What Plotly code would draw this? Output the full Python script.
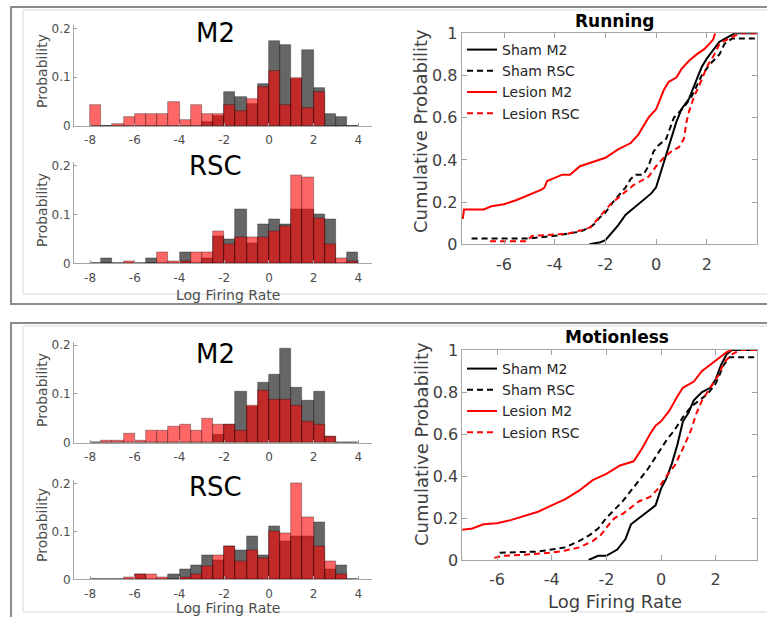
import plotly.graph_objects as go

W, H = 767, 617


def fx(p):
    return p / W


def fy(p):
    return 1 - p / H


# ---------------- data ----------------
bin_centers = [-7.75, -7.25, -6.75, -6.25, -5.75, -5.25, -4.75, -4.25,
               -3.75, -3.25, -2.75, -2.25, -1.75, -1.25, -0.75, -0.25,
               0.25, 0.75, 1.25, 1.75, 2.25, 2.75, 3.25, 3.75]

run_m2_sham = [0, 0, 0, 0, 0, 0, 0, 0, 0, 0, 0.009, 0.02, 0.069, 0.06, 0.045, 0.087,
               0.174, 0.166, 0.097, 0.156, 0.078, 0.025, 0.018, 0]
run_m2_lesion = [0.043, 0, 0.005, 0.018, 0.024, 0.024, 0.024, 0.05, 0.012, 0.043, 0.024, 0.024,
                 0.043, 0.03, 0.056, 0.08, 0.113, 0.043, 0.099, 0.037, 0.069, 0, 0, 0]
run_rsc_sham = [0, 0.01, 0, 0, 0, 0.01, 0, 0, 0.022, 0, 0.011, 0.055, 0.05, 0.11, 0.042, 0.08,
                0.09, 0.08, 0.11, 0.11, 0.1, 0.09, 0, 0.022]
run_rsc_lesion = [0, 0, 0, 0.005, 0, 0, 0.022, 0.005, 0.005, 0.022, 0.022, 0.065, 0.038, 0.054,
                  0.054, 0.054, 0.065, 0.075, 0.18, 0.177, 0.092, 0.038, 0.011, 0.005]
mot_m2_sham = [0, 0, 0, 0, 0, 0, 0, 0, 0, 0, 0, 0.017, 0.037, 0.105, 0.073, 0.123,
               0.14, 0.193, 0.113, 0.086, 0.105, 0.012, 0, 0]
mot_m2_lesion = [0, 0.005, 0.005, 0.018, 0.005, 0.024, 0.024, 0.032, 0.037, 0.024, 0.05, 0.037,
                 0.037, 0.024, 0.076, 0.107, 0.088, 0.088, 0.076, 0.043, 0.037, 0.012, 0, 0]
mot_rsc_sham = [0, 0, 0, 0, 0.01, 0, 0, 0.01, 0.021, 0.03, 0.05, 0.04, 0.07, 0.06, 0.09, 0.05,
                0.11, 0.08, 0.09, 0.09, 0.12, 0.021, 0.03, 0]
mot_rsc_lesion = [0, 0, 0, 0.005, 0.01, 0.01, 0.005, 0, 0.005, 0.01, 0.027, 0.05, 0.07, 0.037,
                  0.06, 0.043, 0.1, 0.097, 0.2, 0.13, 0.07, 0.037, 0.01, 0]

# cumulative curves, Running
run_sham_m2_x = [-2.63, -2.2, -2.0, -1.7, -1.5, -1.2, -1.0, -0.7, -0.4, -0.2, 0.0, 0.2, 0.4, 0.6,
                 0.8, 1.0, 1.3, 1.6, 1.8, 2.0, 2.3, 2.5, 2.8, 3.1, 4.2]
run_sham_m2_y = [0.0, 0.01, 0.02, 0.06, 0.09, 0.14, 0.16, 0.19, 0.22, 0.24, 0.27, 0.35, 0.43, 0.50,
                 0.58, 0.64, 0.69, 0.78, 0.84, 0.88, 0.93, 0.96, 0.98, 1.0, 1.0]
run_sham_rsc_x = [-7.28, -5.0, -4.0, -3.5, -3.0, -2.6, -2.4, -2.2, -2.0, -1.7, -1.4, -1.2, -1.0,
                  -0.8, -0.5, -0.3, -0.1, 0.1, 0.4, 0.7, 1.1, 1.4, 1.8, 2.1, 2.5, 2.7, 3.0, 4.2]
run_sham_rsc_y = [0.028, 0.028, 0.04, 0.05, 0.06, 0.08, 0.10, 0.13, 0.15, 0.20, 0.24, 0.27, 0.31,
                  0.33, 0.33, 0.37, 0.44, 0.47, 0.50, 0.60, 0.65, 0.70, 0.80, 0.85, 0.90, 0.95,
                  0.975, 0.975]
run_lesion_m2_x = [-7.9, -7.62, -7.58, -6.8, -6.5, -6.0, -5.5, -5.0, -4.5, -4.4, -4.3, -4.0, -3.7,
                   -3.4, -3.0, -2.5, -2.0, -1.5, -1.0, -0.7, -0.5, -0.3, 0.0, 0.3, 0.5, 0.8, 1.0,
                   1.3, 1.6, 1.9, 2.1, 2.25, 2.33]
run_lesion_m2_y = [0.12, 0.125, 0.165, 0.165, 0.18, 0.19, 0.21, 0.235, 0.26, 0.27, 0.30, 0.315,
                   0.33, 0.33, 0.37, 0.39, 0.41, 0.45, 0.48, 0.52, 0.56, 0.60, 0.64, 0.73, 0.77,
                   0.79, 0.83, 0.87, 0.90, 0.925, 0.95, 0.97, 1.0]
run_lesion_rsc_x = [-6.55, -5.1, -4.9, -4.0, -3.5, -3.0, -2.6, -2.3, -2.1, -1.8, -1.5, -1.2, -0.9,
                    -0.6, -0.3, 0.0, 0.3, 0.6, 0.9, 1.1, 1.2, 1.3, 1.5, 1.8, 2.0, 2.3, 2.5, 2.8,
                    3.3, 4.2]
run_lesion_rsc_y = [0.015, 0.015, 0.04, 0.045, 0.05, 0.065, 0.08, 0.12, 0.15, 0.19, 0.22, 0.25,
                    0.28, 0.30, 0.32, 0.37, 0.41, 0.44, 0.46, 0.50, 0.58, 0.63, 0.70, 0.78, 0.84,
                    0.90, 0.95, 0.97, 1.0, 1.0]

# cumulative curves, Motionless
mot_sham_m2_x = [-2.65, -2.3, -2.0, -1.6, -1.3, -1.1, -0.8, -0.5, -0.2, 0.0, 0.2, 0.4, 0.6, 0.8,
                 1.0, 1.2, 1.5, 1.8, 2.0, 2.2, 2.4, 2.6, 4.0]
mot_sham_m2_y = [0.0, 0.02, 0.02, 0.05, 0.10, 0.17, 0.20, 0.23, 0.26, 0.34, 0.39, 0.46, 0.55, 0.66,
                 0.70, 0.76, 0.80, 0.82, 0.86, 0.93, 0.98, 1.0, 1.0]
mot_sham_rsc_x = [-5.9, -4.5, -3.5, -3.0, -2.6, -2.3, -2.0, -1.7, -1.4, -1.1, -0.8, -0.5, -0.2,
                  0.0, 0.2, 0.5, 0.8, 1.1, 1.4, 1.7, 2.0, 2.3, 2.5, 3.6]
mot_sham_rsc_y = [0.035, 0.04, 0.06, 0.09, 0.12, 0.15, 0.20, 0.24, 0.28, 0.33, 0.38, 0.43, 0.49,
                  0.53, 0.57, 0.62, 0.68, 0.73, 0.76, 0.79, 0.84, 0.93, 0.965, 0.965]
mot_lesion_m2_x = [-7.5, -6.9, -6.5, -6.0, -5.5, -5.0, -4.5, -4.0, -3.5, -3.0, -2.5, -2.0, -1.5,
                   -1.0, -0.7, -0.4, -0.2, 0.0, 0.3, 0.6, 0.8, 1.2, 1.5, 1.8, 2.1, 2.4, 2.6]
mot_lesion_m2_y = [0.14, 0.15, 0.17, 0.175, 0.19, 0.21, 0.23, 0.26, 0.29, 0.33, 0.38, 0.41, 0.45,
                   0.47, 0.53, 0.60, 0.64, 0.66, 0.71, 0.78, 0.82, 0.85, 0.90, 0.93, 0.96, 0.99, 1.0]
mot_lesion_rsc_x = [-6.1, -5.8, -5.0, -4.0, -3.5, -3.0, -2.5, -2.2, -1.9, -1.7, -1.4, -1.1, -0.8,
                    -0.4, -0.1, 0.2, 0.5, 0.8, 1.1, 1.3, 1.5, 1.8, 2.1, 2.3, 2.6, 2.9, 3.6]
mot_lesion_rsc_y = [0.01, 0.02, 0.025, 0.035, 0.045, 0.06, 0.09, 0.12, 0.17, 0.20, 0.22, 0.25,
                    0.28, 0.30, 0.34, 0.40, 0.45, 0.53, 0.62, 0.70, 0.76, 0.82, 0.88, 0.94, 0.98,
                    1.0, 1.0]

hist_xticks = [-8, -6, -4, -2, 0, 2, 4]
hist_xtext = ['-8', '-6', '-4', '-2', '0', '2', '4']
hist_yticks = [0, 0.1, 0.2]
hist_ytext = ['0', '0.1', '0.2']
cdf_xticks = [-6, -4, -2, 0, 2]
cdf_xtext = ['-6', '-4', '-2', '0', '2']
cdf_yticks = [0, 0.2, 0.4, 0.6, 0.8, 1]
cdf_ytext = ['0', '0.2', '0.4', '0.6', '0.8', '1']

legend_names = ['Sham M2', 'Sham RSC', 'Lesion M2', 'Lesion RSC']

# ---------------- figure ----------------
FONT = 'DejaVu Sans'
fig = go.Figure()

GRAY = 'rgba(0,0,0,0.6)'
RED = 'rgba(255,0,0,0.6)'
EDGE = 'rgba(0,0,0,0.45)'

hists = [
    ('x', 'y', run_m2_sham, run_m2_lesion),
    ('x2', 'y2', run_rsc_sham, run_rsc_lesion),
    ('x4', 'y4', mot_m2_sham, mot_m2_lesion),
    ('x5', 'y5', mot_rsc_sham, mot_rsc_lesion),
]
for xa, ya, sham, lesion in hists:
    fig.add_trace(go.Bar(x=bin_centers, y=sham, width=0.5, xaxis=xa, yaxis=ya,
                         marker=dict(color=GRAY, line=dict(color=EDGE, width=0.7)),
                         showlegend=False, hoverinfo='skip'))
    fig.add_trace(go.Bar(x=bin_centers, y=lesion, width=0.5, xaxis=xa, yaxis=ya,
                         marker=dict(color=RED, line=dict(color=EDGE, width=0.7)),
                         showlegend=False, hoverinfo='skip'))

DASH = '6px,4px'
cdf_sets = [
    ('x3', 'y3', 'legend', [
        (run_sham_m2_x, run_sham_m2_y, 'black', 'solid'),
        (run_sham_rsc_x, run_sham_rsc_y, 'black', DASH),
        (run_lesion_m2_x, run_lesion_m2_y, 'red', 'solid'),
        (run_lesion_rsc_x, run_lesion_rsc_y, 'red', DASH),
    ]),
    ('x6', 'y6', 'legend2', [
        (mot_sham_m2_x, mot_sham_m2_y, 'black', 'solid'),
        (mot_sham_rsc_x, mot_sham_rsc_y, 'black', DASH),
        (mot_lesion_m2_x, mot_lesion_m2_y, 'red', 'solid'),
        (mot_lesion_rsc_x, mot_lesion_rsc_y, 'red', DASH),
    ]),
]
for xa, ya, lg, curves in cdf_sets:
    for name, (cx, cy, col, dash) in zip(legend_names, curves):
        fig.add_trace(go.Scatter(x=cx, y=cy, mode='lines', name=name, xaxis=xa, yaxis=ya,
                                 legend=lg, line=dict(color=col, width=2, dash=dash)))

tickfont_h = dict(family=FONT, size=12, color='#4d4d4d')
tickfont_c = dict(family=FONT, size=16, color='#404040')


def hist_x(dom):
    return dict(domain=dom, range=[-8.72, 4.61], tickvals=hist_xticks, ticktext=hist_xtext,
                ticks='inside', ticklen=3, tickcolor='#a0a0a0', showline=True,
                linecolor='#a6a6a6', linewidth=1, showgrid=False, zeroline=False,
                tickfont=tickfont_h, ticklabelstandoff=3, automargin=False)


def hist_y(dom, anchor):
    return dict(domain=dom, range=[0, 0.207], tickvals=hist_yticks, ticktext=hist_ytext,
                ticks='inside', ticklen=3, tickcolor='#a0a0a0', showline=True,
                linecolor='#a6a6a6', linewidth=1, showgrid=False, zeroline=False,
                tickfont=tickfont_h, anchor=anchor, automargin=False)


def cdf_x(dom, rng, anchor):
    return dict(domain=dom, range=rng, tickvals=cdf_xticks, ticktext=cdf_xtext,
                ticks='inside', ticklen=5, tickcolor='#a0a0a0', showline=True, mirror='ticks',
                linecolor='#a6a6a6', linewidth=1, showgrid=False, zeroline=False,
                tickfont=tickfont_c, anchor=anchor, ticklabelstandoff=5, automargin=False)


def cdf_y(dom, anchor):
    return dict(domain=dom, range=[0, 1], tickvals=cdf_yticks, ticktext=cdf_ytext,
                ticks='inside', ticklen=5, tickcolor='#a0a0a0', showline=True, mirror='ticks',
                linecolor='#a6a6a6', linewidth=1, showgrid=False, zeroline=False,
                tickfont=tickfont_c, anchor=anchor, automargin=False)


hx_dom = [fx(74), fx(372)]
layout = dict(
    width=W, height=H, autosize=False,
    margin=dict(l=0, r=0, t=0, b=0, pad=0, autoexpand=False),
    paper_bgcolor='white', plot_bgcolor='white',
    barmode='overlay', bargap=0,
    xaxis=dict(hist_x(hx_dom), anchor='y'),
    yaxis=hist_y([fy(126), fy(25)], 'x'),
    xaxis2=dict(hist_x(hx_dom), anchor='y2'),
    yaxis2=hist_y([fy(263.3), fy(162.3)], 'x2'),
    xaxis4=dict(hist_x(hx_dom), anchor='y4'),
    yaxis4=hist_y([fy(442.7), fy(341.6)], 'x4'),
    xaxis5=dict(hist_x(hx_dom), anchor='y5'),
    yaxis5=hist_y([fy(579.3), fy(480.3)], 'x5'),
    xaxis3=cdf_x([fx(461.7), fx(756.7)], [-7.67, 3.97], 'y3'),
    yaxis3=cdf_y([fy(244.3), fy(33.3)], 'x3'),
    xaxis6=cdf_x([fx(462.3), fx(756.7)], [-7.27, 3.5], 'y6'),
    yaxis6=cdf_y([fy(560), fy(350)], 'x6'),
    legend=dict(x=fx(462), y=fy(34), xanchor='left', yanchor='top',
                bgcolor='rgba(0,0,0,0)', borderwidth=0, tracegroupgap=0,
                font=dict(family=FONT, size=14, color='#262626')),
    legend2=dict(x=fx(462), y=fy(353), xanchor='left', yanchor='top',
                 bgcolor='rgba(0,0,0,0)', borderwidth=0, tracegroupgap=0,
                 font=dict(family=FONT, size=14, color='#262626')),
)
fig.update_layout(**layout)

# panel frames
DARK = '#8c8c8c'
LIGHT = '#d9d9d9'
shapes = []
for (x0, y0, x1, y1, col, w) in [
    (11, 7, 800, 304, DARK, 2),
    (23, 10, 800, 294, LIGHT, 1),
    (11, 323, 800, 660, DARK, 2),
    (23, 326, 800, 612, LIGHT, 1),
]:
    shapes.append(dict(type='rect', xref='paper', yref='paper', x0=fx(x0), x1=fx(x1),
                       y0=fy(y0), y1=fy(y1), line=dict(color=col, width=w), layer='below'))
fig.update_layout(shapes=shapes)

ann = []


def add_text(text, px, py, size, color='#262626', angle=0, bold=False):
    ann.append(dict(text=('<b>%s</b>' % text) if bold else text, x=fx(px), y=fy(py),
                    xref='paper', yref='paper', showarrow=False, xanchor='center',
                    yanchor='middle', textangle=angle,
                    font=dict(family=FONT, size=size, color=color)))


add_text('M2', 215, 33, 26, color='black')
add_text('RSC', 215, 166, 26, color='black')
add_text('M2', 215, 354, 26, color='black')
add_text('RSC', 215, 487, 26, color='black')
for cy in [71, 210, 390, 525]:
    add_text('Probability', 42, cy, 14, color='#4d4d4d', angle=-90)
add_text('Log Firing Rate', 228, 295, 14, color='#4d4d4d')
add_text('Log Firing Rate', 228, 607.5, 14, color='#4d4d4d')
add_text('Running', 615, 20.5, 17, color='black', bold=True)
add_text('Motionless', 617, 337, 17, color='black', bold=True)
add_text('Cumulative Probability', 421, 131, 18, color='#404040', angle=-90)
add_text('Cumulative Probability', 421, 444, 18, color='#404040', angle=-90)
add_text('Log Firing Rate', 615, 601, 18, color='#404040')
fig.update_layout(annotations=ann)

fig.write_html('out.html',
               config={'displayModeBar': False},
               post_script="document.body.style.margin='0px';"
                           "document.body.style.padding='0px';"
                           "document.documentElement.style.overflow='hidden';")
